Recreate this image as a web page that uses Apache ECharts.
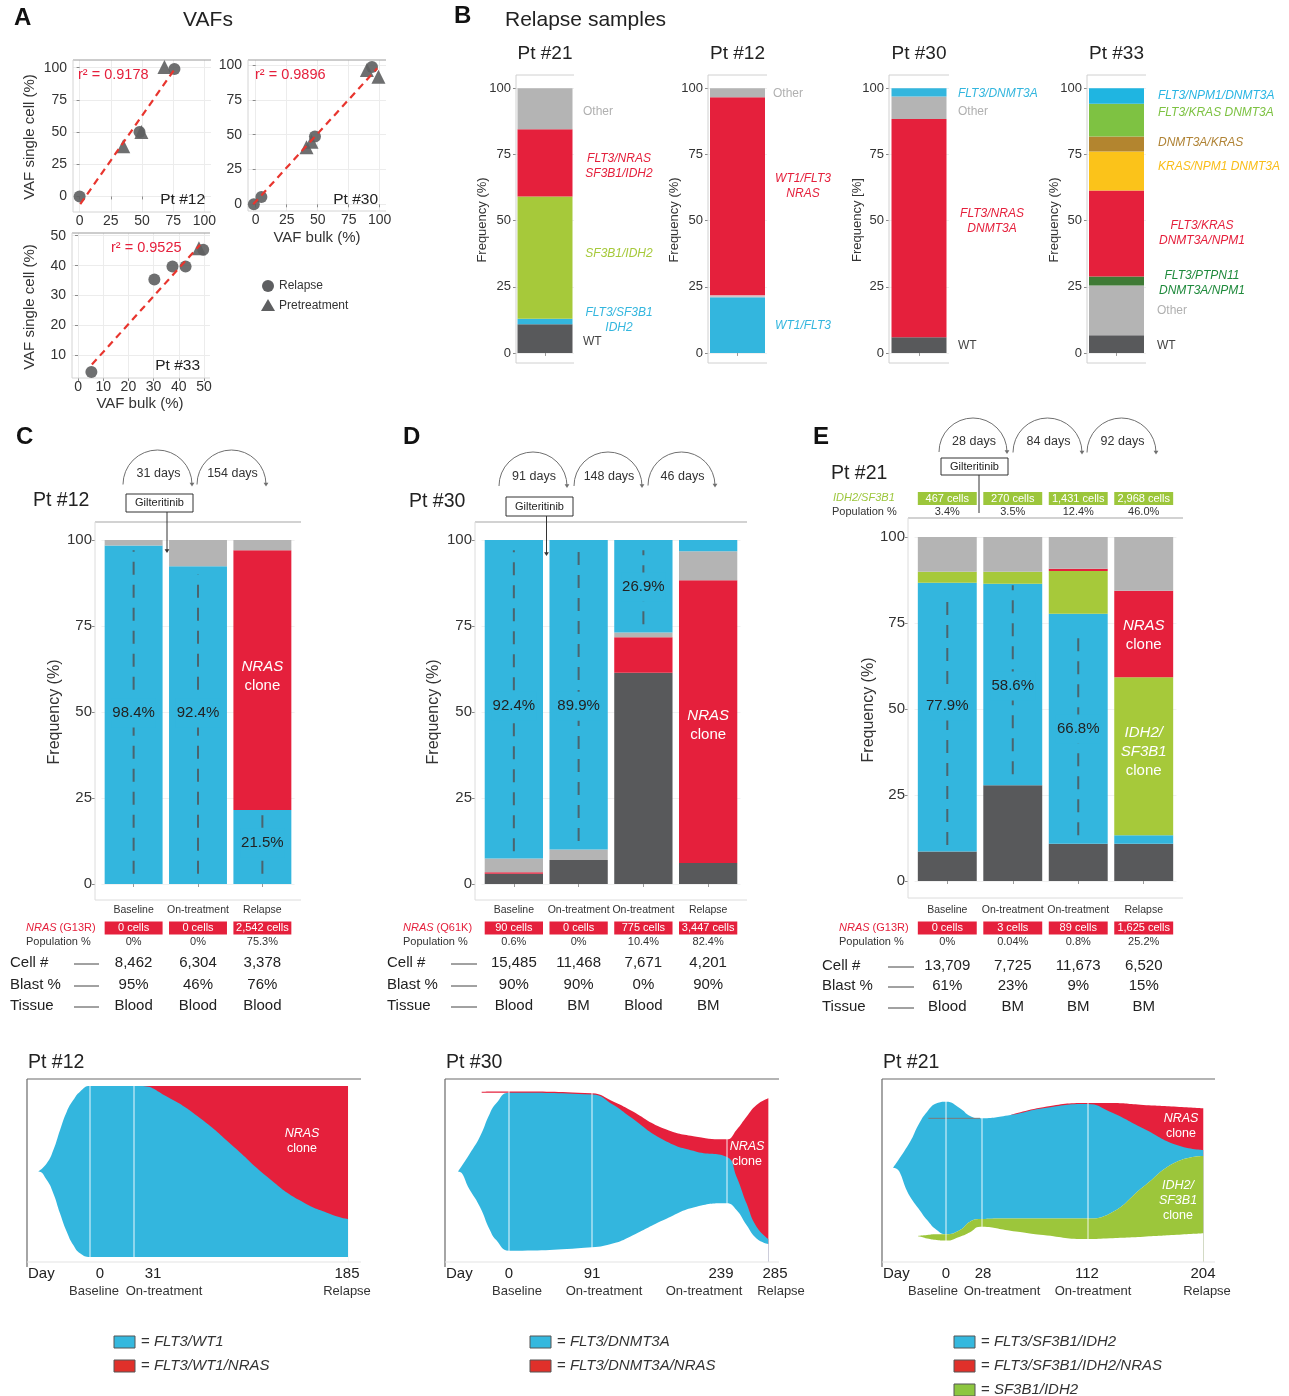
<!DOCTYPE html>
<html><head><meta charset="utf-8">
<script src="https://cdn.jsdelivr.net/npm/echarts@6/dist/echarts.min.js"></script>
<style>html,body{margin:0;padding:0;background:#fff}#c{width:1289px;height:1396px}</style>
</head><body><div id="c"></div>
<script>
const FONT = "'Liberation Sans', Arial, sans-serif";
const BLUE = '#33b6de', RED = '#e5203c', GREEN = '#a6c93a', DARK = '#58595b', GREY = '#b4b4b4';

// ---------------- Panel A data ----------------
const aTicks = [0, 25, 50, 75, 100];
const a33TicksX = [0, 10, 20, 30, 40, 50];
const a33TicksY = [10, 20, 30, 40, 50];
const a12Relapse = [[0, 0], [48, 50], [76, 99]];
const a12Pretreat = [[35, 39], [49.5, 50], [68, 100.5]];
const a12Fit = [[0.5, -6], [75.5, 98]];
const a30Relapse = [[-1.5, 0], [4.6, 5.3], [47.8, 48.7], [93.8, 98.6]];
const a30Pretreat = [[41, 41], [45, 45], [89.7, 96.4], [99, 91.6]];
const a30Fit = [[-2, 0], [98, 97.6]];
const a33Relapse = [[5.3, 4.5], [30.3, 35.4], [37.5, 39.7], [42.7, 39.7], [49.7, 45.3]];
const a33Pretreat = [[48, 45.8]];
const a33Fit = [[5.5, 7], [48.5, 47]];

// ---------------- Panel B data ----------------
const bTicks = [0, 25, 50, 75, 100];
const b21Vals = [10.8, 2.1, 46.2, 25.4, 15.5];
const b21Cols = [DARK, BLUE, GREEN, RED, GREY];
const b12Vals = [21, 0.8, 74.8, 3.4];
const b12Cols = [BLUE, '#d8c3c8', RED, GREY];
const b30Vals = [5.9, 82.5, 8.5, 3.1];
const b30Cols = [DARK, RED, GREY, BLUE];
const b33Vals = [6.7, 18.8, 3.4, 32.5, 14.7, 5.7, 12.3, 5.9];
const b33Cols = [DARK, GREY, '#3f7a35', RED, '#fbc31a', '#b3852f', '#7ec242', '#1fb5e1'];

// ---------------- Panel C data (Pt #12) ----------------
const cCats = ['Baseline', 'On-treatment', 'Relapse'];
const cBlue = [98.4, 92.4, 21.5];
const cRed = [0, 0, 75.5];
const cGrey = [1.6, 7.6, 3.0];
const cDash = [[3, 97], [3, 90], [3, 20]];
const cPctText = ['98.4%', '92.4%', '21.5%'];
const cPctAt = [49.7, 49.7, 11.9];
const cNrasCells = ['0 cells', '0 cells', '2,542 cells'];
const cNrasPop = ['0%', '0%', '75.3%'];
const cCellN = ['8,462', '6,304', '3,378'];
const cBlast = ['95%', '46%', '76%'];
const cTissue = ['Blood', 'Blood', 'Blood'];

// ---------------- Panel D data (Pt #30) ----------------
const dCats = ['Baseline', 'On-treatment', 'On-treatment', 'Relapse'];
const dDark = [3, 7, 61.4, 6.1];
const dRed = [0.4, 0, 10.3, 82.2];
const dGrey = [4, 3, 1.4, 8.4];
const dBlue = [92.6, 90, 26.9, 3.3];
const dDash = [[9.5, 97], [12.5, 97], [75.5, 97], null];
const dPctText = ['92.4%', '89.9%', '26.9%'];
const dPctAt = [51.7, 51.7, 86.3];
const dNrasCells = ['90 cells', '0 cells', '775 cells', '3,447 cells'];
const dNrasPop = ['0.6%', '0%', '10.4%', '82.4%'];
const dCellN = ['15,485', '11,468', '7,671', '4,201'];
const dBlast = ['90%', '90%', '0%', '90%'];
const dTissue = ['Blood', 'BM', 'Blood', 'BM'];

// ---------------- Panel E data (Pt #21) ----------------
const eCats = ['Baseline', 'On-treatment', 'On-treatment', 'Relapse'];
const eDark = [8.6, 27.8, 10.8, 10.8];
const eBlue = [78.1, 58.6, 66.9, 2.5];
const eGreen = [3.2, 3.5, 12.4, 45.9];
const eRed = [0, 0, 0.7, 25.2];
const eGrey = [10.1, 10.1, 9.2, 15.6];
const eDash = [[10.5, 81.9], [31, 86], [13.3, 72.7], null];
const ePctText = ['77.9%', '58.6%', '66.8%'];
const ePctAt = [50.9, 56.7, 44.2];
const eIdhCells = ['467 cells', '270 cells', '1,431 cells', '2,968 cells'];
const eIdhPop = ['3.4%', '3.5%', '12.4%', '46.0%'];
const eNrasCells = ['0 cells', '3 cells', '89 cells', '1,625 cells'];
const eNrasPop = ['0%', '0.04%', '0.8%', '25.2%'];
const eCellN = ['13,709', '7,725', '11,673', '6,520'];
const eBlast = ['61%', '23%', '9%', '15%'];
const eTissue = ['Blood', 'BM', 'BM', 'BM'];

// ---------------- Fish plot data (day, % of panel height) ----------------
const fish12Days = [-37, -31, -26.3, -21.5, -16.7, -12, -7.2, 0, 31, 36, 55, 79, 103, 127, 150, 174, 185];
const fish12Lower = [50, 45, 37.2, 25.5, 14.8, 7, 2.2, 0, 0, 0, 0, 0, 0, 0, 0, 0, 0];
const fish12BlueTop = [50, 54.8, 62.6, 74.3, 85, 91.8, 96.7, 100, 100, 100, 93.8, 81.1, 64.5, 47, 33.3, 24.6, 22.2];
const fish12RedDays = [31, 36, 55, 79, 103, 127, 150, 174, 185];
const fish12RedTop = [100, 100, 100, 100, 100, 100, 100, 100, 100];
const fish12Marks = [0, 31];

const fish30Days = [-56, -43, -32, -21, -14, 0, 91, 115, 133, 170, 206, 239, 250, 261, 272, 285];
const fish30Lower = [50, 39.2, 29.4, 15.8, 9.9, 3.7, 5.7, 8, 11.9, 21.6, 29.4, 31.4, 27.5, 18.7, 10.9, 7.6];
const fish30BlueTop = [50, 60.6, 70.4, 84, 89.9, 96.1, 95.1, 88.9, 82, 68.4, 61.6, 58.7, 47, 31.4, 17.7, 10.5];
const fish30RedDays = [-30, 0, 91, 115, 133, 170, 206, 239, 250, 261, 272, 285];
const fish30RedTop = [96.7, 96.8, 95.8, 90.8, 86, 75.2, 70.4, 68.8, 74.3, 82, 88.9, 92.8];
const fish30GapDays = [-31, 0];
const fish30GapTop = [96.1, 96.1];
const fish30Marks = [0, 91, 239];

const fish21Days = [-42, -28.5, -22, -15, -7.4, 0, 11, 19, 27, 51, 77, 112, 130, 156.5, 183, 204];
const fish21BlueLow = [52.2, 35.3, 28.5, 21.6, 15.8, 13.3, 15.8, 20.7, 22.2, 22.6, 22.6, 22.6, 25.5, 41.1, 55.7, 59.1];
const fish21BlueTop = [52.2, 67.4, 77.2, 85, 89.9, 90.8, 87, 82.5, 81.1, 83, 87, 89.5, 85, 75.2, 65.5, 62.6];
const fish21RedDays = [51, 77, 112, 130, 156.5, 183, 204];
const fish21RedTop = [83, 87.6, 90, 90, 88.9, 87.9, 87];
const fish21GreenDays = [-22, -15, -7.4, 0, 11, 19, 27, 51, 77, 112, 130, 156.5, 183, 204];
const fish21GreenTop = [12.4, 12.9, 13.3, 13.3, 15.8, 20.7, 22.2, 22.6, 22.6, 22.6, 25.5, 41.1, 55.7, 59.1];
const fish21GreenLow = [12.0, 10.8, 9.9, 9.6, 11.9, 14.5, 17.7, 15.4, 12.9, 10.5, 11, 11.9, 13, 13.9];
const fish21Guide = [[-14, 81.1], [27, 81.1]];
const fish21Marks = [0, 28, 112];

// =====================================================================
const chart = echarts.init(document.getElementById('c'), null, {renderer: 'canvas', width: 1289, height: 1396});
const option = {animation: false, backgroundColor: '#fff', textStyle: {fontFamily: FONT}, grid: [], xAxis: [], yAxis: [], series: []};

function addGrid(b, xa, ya) {
  const gi = option.grid.length;
  option.grid.push({left: b.l, top: b.t, width: b.w, height: b.h, containLabel: false, outerBoundsMode: 'none', show: false});
  option.xAxis.push(Object.assign({gridIndex: gi}, xa));
  option.yAxis.push(Object.assign({gridIndex: gi}, ya));
  return gi;
}
function S(gi, s) { s.xAxisIndex = gi; s.yAxisIndex = gi; s.silent = true; option.series.push(s); return s; }

function valAxis(min, max, ticks, size, margin, extra) {
  return Object.assign({
    type: 'value', min: min, max: max,
    axisLine: {show: false},
    axisTick: {show: true, length: 3, lineStyle: {color: '#8a8a8a'}, customValues: ticks},
    axisLabel: {show: true, customValues: ticks, fontSize: size, color: '#333', margin: margin, fontFamily: FONT},
    splitLine: {show: true, lineStyle: {color: '#ececec', width: 1}}
  }, extra || {});
}

// ---------------- A ----------------
const gA = [];
gA.push(addGrid({l: 73, t: 60, w: 138, h: 152}, valAxis(-5.3, 105.3, aTicks, 14, 2), valAxis(-12.1, 106, aTicks, 14, 6)));
gA.push(addGrid({l: 248, t: 60, w: 138, h: 151}, valAxis(-6.2, 105.1, aTicks, 14, 2), valAxis(-4.8, 103.6, aTicks, 14, 6)));
gA.push(addGrid({l: 72, t: 233, w: 138, h: 145}, valAxis(-2.4, 52.4, a33TicksX, 14, 2), valAxis(2.5, 50.9, a33TicksY, 14, 6)));
function aSeries(gi, rel, pre, fit) {
  S(gi, {type: 'scatter', data: rel, symbol: 'circle', symbolSize: 12, itemStyle: {color: '#5e5f61', opacity: 0.9}});
  S(gi, {type: 'scatter', data: pre, symbol: 'triangle', symbolSize: 14, itemStyle: {color: '#5e5f61', opacity: 0.9}});
  S(gi, {type: 'line', data: fit, symbol: 'none', lineStyle: {color: '#e8352e', width: 2.2, type: [7, 5]}});
}
aSeries(gA[0], a12Relapse, a12Pretreat, a12Fit);
aSeries(gA[1], a30Relapse, a30Pretreat, a30Fit);
aSeries(gA[2], a33Relapse, a33Pretreat, a33Fit);

// ---------------- B ----------------
function bPanel(l, w, vals, cols, key) {
  const gi = addGrid({l: l, t: 75, w: w, h: 288},
    {type: 'category', data: [key], axisLine: {show: false}, axisLabel: {show: false},
     axisTick: {show: true, alignWithLabel: true, length: 3, lineStyle: {color: '#999'}}},
    valAxis(-3.8, 105, bTicks, 13, 5, {splitLine: {show: true, lineStyle: {color: '#f0f0f0'}}}));
  vals.forEach(function (v, k) {
    S(gi, {type: 'bar', stack: key, data: [v], barWidth: 55, itemStyle: {color: cols[k]}});
  });
  return gi;
}
const gB21 = bPanel(516, 58, b21Vals, b21Cols, 'b21');
const gB12 = bPanel(708, 59, b12Vals, b12Cols, 'b12');
const gB30 = bPanel(889, 60, b30Vals, b30Cols, 'b30');
const gB33 = bPanel(1087, 59, b33Vals, b33Cols, 'b33');

// ---------------- C / D / E ----------------
function cdePanel(pL, pR, top, bottom, ymin, ymax, cats, layers, dashes, key, lblMargin) {
  const n = cats.length, unit = (pR - pL) / (n + 0.2);
  const gi = addGrid({l: pL + 0.1 * unit, t: top, w: n * unit, h: bottom - top},
    {type: 'category', data: cats.map(function (c, i) { return key + i; }), axisLine: {show: false},
     axisTick: {show: true, alignWithLabel: true, length: 3, lineStyle: {color: '#999'}},
     axisLabel: {interval: 0, formatter: function (v, i) { return cats[i]; }, fontSize: 10.5, color: '#333', margin: lblMargin, fontFamily: FONT}},
    valAxis(ymin, ymax, [0, 25, 50, 75, 100], 15, 3, {offset: 0.1 * unit, splitLine: {show: true, lineStyle: {color: '#f1f1f1'}}}));
  layers.forEach(function (L) {
    S(gi, {type: 'bar', stack: key, data: L[0], barWidth: 0.9 * unit, itemStyle: {color: L[1]}});
  });
  dashes.forEach(function (d, i) {
    if (!d) return;
    S(gi, {type: 'line', data: [[i, d[0]], [i, d[1]]], symbol: 'none', z: 3,
      lineStyle: {color: '#505052', width: 2, type: [13, 10], opacity: 0.8}});
  });
  return {gi: gi, unit: unit};
}
const pC = cdePanel(95, 301, 522, 900, -4.65, 105.23, cCats,
  [[cBlue, BLUE], [cRed, RED], [cGrey, GREY]], cDash, 'c', 4.5);
const pD = cdePanel(475, 747, 522, 900, -4.65, 105.23, dCats,
  [[dDark, DARK], [dRed, RED], [dGrey, GREY], [dBlue, BLUE]], dDash, 'd', 4.5);
const pE = cdePanel(908, 1183, 518, 898, -4.94, 105.52, eCats,
  [[eDark, DARK], [eBlue, BLUE], [eGreen, GREEN], [eRed, RED], [eGrey, GREY]], eDash, 'e', 6.5);

// ---------------- Fish plots ----------------
function fishGrid(l, w, xmin, xmax) {
  return addGrid({l: l, t: 1079, w: w, h: 183},
    {type: 'value', min: xmin, max: xmax, show: false},
    {type: 'value', min: -2.9, max: 104.1, show: false});
}
// painter layers: each edge filled down to the panel bottom; white layers mask what lies below
function fishLayer(gi, days, vals, color, extra) {
  const pts = days.map(function (d, i) { return [d, vals[i]]; });
  if (color === '#fff') pts.unshift([days[0] - 2.5, vals[0]]); // mask reaches a bit further left to hide edge seams
  return S(gi, Object.assign({type: 'line', data: pts,
    smooth: 0.5, symbol: 'none', lineStyle: {width: 0}, areaStyle: {color: color, opacity: 1, origin: 'start'}}, extra || {}));
}
function marks(days) {
  return {markLine: {silent: true, symbol: 'none', label: {show: false},
    lineStyle: {color: 'rgba(255,255,255,0.6)', width: 1.5, type: 'solid'},
    data: days.map(function (d) { return {xAxis: d}; })}};
}
const gF12 = fishGrid(27, 334, -45.2, 194.3);
fishLayer(gF12, fish12RedDays, fish12RedTop, RED);
fishLayer(gF12, fish12Days, fish12BlueTop, BLUE);
fishLayer(gF12, fish12Days, fish12Lower, '#fff', marks(fish12Marks));

const gF30 = fishGrid(445, 334, -70.3, 296.7);
fishLayer(gF30, fish30RedDays, fish30RedTop, RED);
fishLayer(gF30, fish30GapDays, fish30GapTop, '#fff', {smooth: false});
fishLayer(gF30, fish30Days, fish30BlueTop, BLUE);
fishLayer(gF30, fish30Days, fish30Lower, '#fff', marks(fish30Marks));

const gF21 = fishGrid(882, 333, -50.8, 213.3);
fishLayer(gF21, fish21RedDays, fish21RedTop, RED);
fishLayer(gF21, fish21Days, fish21BlueTop, BLUE);
fishLayer(gF21, fish21Days, fish21BlueLow, '#fff');
fishLayer(gF21, fish21GreenDays, fish21GreenTop, '#9cc63b');
fishLayer(gF21, fish21GreenDays, fish21GreenLow, '#fff', marks(fish21Marks));
S(gF21, {type: 'line', data: fish21Guide, symbol: 'none', lineStyle: {color: '#7a7a7a', width: 1}});

chart.setOption(option);

// =================== annotations ===================
const G = [];
function px(gi, x, y) { return chart.convertToPixel({gridIndex: gi}, [x, y]); }
function txt(text, x, y, o) {
  o = o || {};
  const st = {text: text, fill: o.color || '#222', fontSize: o.size || 14, fontFamily: FONT,
    fontStyle: o.italic ? 'italic' : 'normal', fontWeight: o.bold ? 'bold' : 'normal',
    align: o.align || 'center', verticalAlign: o.va || 'middle',
    textAlign: o.align || 'center', textVerticalAlign: o.va || 'middle'};
  if (o.rich) st.rich = o.rich;
  if (o.bg) { st.backgroundColor = o.bg; st.padding = o.pad || 0; }
  if (o.lh) st.lineHeight = o.lh;
  const el = {type: 'text', x: x, y: y, z: 100, silent: true, style: st};
  if (o.rot) el.rotation = o.rot;
  G.push(el);
}
function it(size, color) { return {fontStyle: 'italic', fontSize: size, fontFamily: FONT, fill: color, color: color}; }
function ln(x1, y1, x2, y2, c, w, z) { G.push({type: 'line', z: z || 100, silent: true, shape: {x1: x1, y1: y1, x2: x2, y2: y2}, style: {stroke: c, lineWidth: w || 1}}); }
function rect(x, y, w, h, fill, stroke, z) { G.push({type: 'rect', z: z || 100, silent: true, shape: {x: x, y: y, width: w, height: h}, style: {fill: fill, stroke: stroke || null, lineWidth: 1}}); }
function tri(x, y, s, fill) { G.push({type: 'polygon', z: 100, silent: true, shape: {points: [[x - s, y - s * 1.6], [x + s, y - s * 1.6], [x, y]]}, style: {fill: fill}}); }
function arcArrow(x1, x2, top) {
  const cx = (x1 + x2) / 2, r = (x2 - x1) / 2, cy = top + r;
  G.push({type: 'arc', z: 100, silent: true, shape: {cx: cx, cy: cy, r: r, startAngle: Math.PI, endAngle: 2 * Math.PI, clockwise: true}, style: {stroke: '#707070', fill: null, lineWidth: 1}});
  tri(x2, cy + 2, 2.4, '#707070');
}
function frame(l, t, r, b, topC, sideC) {
  ln(l, t, r, t, topC, 1, 1);
  ln(l, t, l, b, sideC, 1, 1);
  ln(l, b, r, b, sideC, 1, 1);
}

// ----- A -----
txt('A', 14, 18, {size: 24, bold: true, align: 'left', color: '#111'});
txt('VAFs', 208, 20, {size: 21, color: '#222'});
frame(73, 60, 211, 212, '#9a9a9a', '#d4d4d4');
frame(248, 60, 386, 211, '#9a9a9a', '#d4d4d4');
frame(72, 233, 210, 378, '#9a9a9a', '#d4d4d4');
txt('r² = 0.9178', 78, 75, {size: 14.5, color: RED, align: 'left'});
txt('r² = 0.9896', 255, 75, {size: 14.5, color: RED, align: 'left'});
txt('r² = 0.9525', 111, 248, {size: 14.5, color: RED, align: 'left'});
txt('Pt #12', 205, 200, {size: 15.5, align: 'right'});
txt('Pt #30', 378, 200, {size: 15.5, align: 'right'});
txt('Pt #33', 200, 366, {size: 15.5, align: 'right'});
txt('VAF single cell (%)', 30, 137, {size: 15, rot: Math.PI / 2, color: '#333'});
txt('VAF single cell (%)', 30, 307, {size: 15, rot: Math.PI / 2, color: '#333'});
txt('VAF bulk (%)', 317, 238, {size: 15, color: '#333'});
txt('VAF bulk (%)', 140, 404, {size: 15, color: '#333'});
G.push({type: 'circle', z: 100, silent: true, shape: {cx: 268, cy: 286, r: 6}, style: {fill: '#5e5f61'}});
G.push({type: 'polygon', z: 100, silent: true, shape: {points: [[268, 299], [275, 311], [261, 311]]}, style: {fill: '#5e5f61'}});
txt('Relapse', 279, 286, {size: 12, align: 'left', color: '#333'});
txt('Pretreatment', 279, 306, {size: 12, align: 'left', color: '#333'});

// ----- B -----
txt('B', 454, 16, {size: 24, bold: true, align: 'left', color: '#111'});
txt('Relapse samples', 505, 20, {size: 21, align: 'left', color: '#222'});
[[gB21, 516, 58, 'Pt #21', 482, 'Frequency (%)'], [gB12, 708, 59, 'Pt #12', 674, 'Frequency (%)'],
 [gB30, 889, 60, 'Pt #30', 857, 'Frequency [%]'], [gB33, 1087, 59, 'Pt #33', 1054, 'Frequency (%)']].forEach(function (p) {
  frame(p[1], 75, p[1] + p[2], 363, '#d0d0d0', '#d0d0d0');
  txt(p[3], p[1] + p[2] / 2, 54, {size: 19});
  txt(p[5], p[4], 220, {size: 13, rot: Math.PI / 2, color: '#333'});
});
txt('Other', 583, 112, {size: 12, align: 'left', color: '#b0b0b0'});
txt('FLT3/NRAS\nSF3B1/IDH2', 619, 166, {size: 12, italic: true, color: RED, lh: 15});
txt('SF3B1/IDH2', 619, 254, {size: 12, italic: true, color: GREEN});
txt('FLT3/SF3B1\nIDH2', 619, 320, {size: 12, italic: true, color: BLUE, lh: 15});
txt('WT', 583, 342, {size: 12, align: 'left', color: '#444'});
txt('Other', 773, 94, {size: 12, align: 'left', color: '#b0b0b0'});
txt('WT1/FLT3\nNRAS', 803, 186, {size: 12, italic: true, color: RED, lh: 15});
txt('WT1/FLT3', 803, 326, {size: 12, italic: true, color: BLUE});
txt('FLT3/DNMT3A', 958, 94, {size: 12, italic: true, align: 'left', color: BLUE});
txt('Other', 958, 112, {size: 12, align: 'left', color: '#b0b0b0'});
txt('FLT3/NRAS\nDNMT3A', 992, 221, {size: 12, italic: true, color: RED, lh: 15});
txt('WT', 958, 346, {size: 12, align: 'left', color: '#444'});
txt('FLT3/NPM1/DNMT3A', 1158, 96, {size: 12, italic: true, align: 'left', color: '#29b5e3'});
txt('FLT3/KRAS DNMT3A', 1158, 113, {size: 12, italic: true, align: 'left', color: '#7dc242'});
txt('DNMT3A/KRAS', 1158, 143, {size: 12, italic: true, align: 'left', color: '#b08335'});
txt('KRAS/NPM1 DNMT3A', 1158, 167, {size: 12, italic: true, align: 'left', color: '#f9bd18'});
txt('FLT3/KRAS\nDNMT3A/NPM1', 1202, 233, {size: 12, italic: true, color: RED, lh: 15});
txt('FLT3/PTPN11\nDNMT3A/NPM1', 1202, 283, {size: 12, italic: true, color: '#1f8a3c', lh: 15});
txt('Other', 1157, 311, {size: 12, align: 'left', color: '#b0b0b0'});
txt('WT', 1157, 346, {size: 12, align: 'left', color: '#444'});

// ----- C / D / E common -----
function cde(p, cfg) {
  const gi = p.gi, n = cfg.n, bw = 0.9 * p.unit;
  frame(cfg.pL, cfg.top, cfg.pR, cfg.bottom, '#a5a5a5', '#dcdcdc');
  txt(cfg.letter, cfg.letterX, 437, {size: 24, bold: true, align: 'left', color: '#111'});
  txt(cfg.title, cfg.titleX, cfg.titleY, {size: 19.5, align: 'left'});
  txt('Frequency (%)', cfg.ylabX, cfg.ylabY, {size: 16, rot: Math.PI / 2, color: '#333'});
  cfg.arcs.forEach(function (a, k) {
    arcArrow(a[0], a[1], cfg.arcTop);
    txt(cfg.arcText[k], (a[0] + a[1]) / 2 + 1, cfg.arcTextY, {size: 12.5, color: '#333'});
  });
  const gb = cfg.gilt;
  rect(gb[0], gb[1], gb[2], gb[3], '#fff', '#333');
  txt('Gilteritinib', gb[0] + gb[2] / 2, gb[1] + gb[3] / 2, {size: 11, color: '#222'});
  ln(gb[4], gb[1] + gb[3], gb[4], gb[5], '#333', 1);
  if (cfg.arrow) tri(gb[4], gb[5] + 2, 2.4, '#333');
  cfg.pctText.forEach(function (t, i) {
    const q = px(gi, i, cfg.pctAt[i]);
    txt(t, q[0], q[1], {size: 15, color: '#222', bg: BLUE, pad: [7, 1]});
  });
  cfg.clones.forEach(function (c) {
    const q = px(gi, c[0], c[1]);
    txt(c[2], q[0], q[1], {size: 15, color: '#fff', lh: 19, rich: {i: Object.assign(it(15, '#fff'), {lineHeight: 19})}});
  });
  txt('{i|NRAS} (' + cfg.mut + ')', cfg.nrasX, 928, {size: 11, color: RED, align: 'left', rich: {i: it(11, RED)}});
  txt('Population %', cfg.nrasX, 942, {size: 11, color: '#333', align: 'left'});
  ['Cell #', 'Blast %', 'Tissue'].forEach(function (s, k) {
    txt(s, cfg.rowX, cfg.rowY[k], {size: 15, align: 'left', color: '#222'});
    ln(cfg.lineX[0], cfg.rowY[k] + 1, cfg.lineX[1], cfg.rowY[k] + 1, '#444', 1);
  });
  for (let i = 0; i < n; i++) {
    const cx = px(gi, i, 0)[0];
    rect(cx - bw / 2, 921.5, bw, 13, RED);
    txt(cfg.cells[i], cx, 928, {size: 11, color: '#fff'});
    txt(cfg.pop[i], cx, 942, {size: 11, color: '#333'});
    cfg.rows.forEach(function (r, k) { txt(r[i], cx, cfg.rowY[k], {size: 15, color: '#222'}); });
  }
}
cde(pC, {n: 3, pL: 95, pR: 301, top: 522, bottom: 900, letter: 'C', letterX: 16, title: 'Pt #12', titleX: 33, titleY: 501,
  ylabX: 55, ylabY: 712, arcs: [[123, 192], [197, 266]], arcTop: 450, arcText: ['31 days', '154 days'], arcTextY: 474,
  gilt: [126, 494, 67, 18, 167, 551], arrow: true, pctText: cPctText, pctAt: cPctAt,
  clones: [[2, 60.5, '{i|NRAS}\nclone']], mut: 'G13R', nrasX: 26, rowX: 10, rowY: [963, 985, 1006], lineX: [74, 99],
  cells: cNrasCells, pop: cNrasPop, rows: [cCellN, cBlast, cTissue]});
cde(pD, {n: 4, pL: 475, pR: 747, top: 522, bottom: 900, letter: 'D', letterX: 403, title: 'Pt #30', titleX: 409, titleY: 502,
  ylabX: 434, ylabY: 712, arcs: [[499, 567], [574, 642], [648, 715]], arcTop: 452, arcText: ['91 days', '148 days', '46 days'], arcTextY: 477,
  gilt: [506, 497, 67, 19, 546.5, 554], arrow: true, pctText: dPctText, pctAt: dPctAt,
  clones: [[3, 46.2, '{i|NRAS}\nclone']], mut: 'Q61K', nrasX: 403, rowX: 387, rowY: [963, 985, 1006], lineX: [451, 477],
  cells: dNrasCells, pop: dNrasPop, rows: [dCellN, dBlast, dTissue]});
cde(pE, {n: 4, pL: 908, pR: 1183, top: 518, bottom: 898, letter: 'E', letterX: 813, title: 'Pt #21', titleX: 831, titleY: 474,
  ylabX: 869, ylabY: 710, arcs: [[939, 1007], [1013, 1082], [1087, 1156]], arcTop: 418, arcText: ['28 days', '84 days', '92 days'], arcTextY: 442,
  gilt: [941, 458, 67, 17, 979, 513], arrow: false, pctText: ePctText, pctAt: ePctAt,
  clones: [[3, 71.5, '{i|NRAS}\nclone'], [3, 37.5, '{i|IDH2/}\n{i|SF3B1}\nclone']], mut: 'G13R', nrasX: 839, rowX: 822, rowY: [966, 986, 1007], lineX: [888, 914],
  cells: eNrasCells, pop: eNrasPop, rows: [eCellN, eBlast, eTissue]});
txt('IDH2/SF3B1', 833, 498, {size: 11, italic: true, color: '#9cc63b', align: 'left'});
txt('Population %', 832, 512, {size: 11, color: '#333', align: 'left'});
for (let i = 0; i < 4; i++) {
  const cx = px(pE.gi, i, 0)[0], bw = 0.9 * pE.unit;
  rect(cx - bw / 2, 492, bw, 13, '#9cc63b');
  txt(eIdhCells[i], cx, 498.5, {size: 11, color: '#fff'});
  txt(eIdhPop[i], cx, 512, {size: 11, color: '#333'});
}

// ----- Fish plots text -----
function fishText(gi, l, r, title, dayLbls, catLbls, legend, legX, clones) {
  ln(l, 1079, r, 1079, '#6a6a6a', 1.2);
  ln(l, 1079, l, 1267, '#6a6a6a', 1.2);
  ln(l, 1262, r, 1262, '#e3e3e3', 1);
  txt(title, l + 1, 1063, {size: 19.5, align: 'left'});
  txt('Day', l + 1, 1274, {size: 15, align: 'left'});
  dayLbls.forEach(function (d) { txt(d[0], d[1], 1274, {size: 15}); });
  catLbls.forEach(function (d) { txt(d[0], d[1], 1291, {size: 13, color: '#333'}); });
  legend.forEach(function (g, k) {
    const y = 1342 + k * 24;
    rect(legX, y - 6, 21, 12, g[1], '#555');
    txt('= {i|' + g[0] + '}', legX + 27, y, {size: 15, align: 'left', color: '#333', rich: {i: it(15, '#333')}});
  });
  clones.forEach(function (c) {
    txt(c[0], c[1], c[2], {size: 12.5, color: '#fff', lh: 15, rich: {i: Object.assign(it(12.5, '#fff'), {lineHeight: 15})}});
  });
}
fishText(gF12, 27, 361, 'Pt #12', [['0', 100], ['31', 153], ['185', 347]],
  [['Baseline', 94], ['On-treatment', 164], ['Relapse', 347]],
  [['FLT3/WT1', '#35b8de'], ['FLT3/WT1/NRAS', '#e0302a']], 114, [['{i|NRAS}\nclone', 302, 1141]]);
fishText(gF30, 445, 779, 'Pt #30', [['0', 509], ['91', 592], ['239', 721], ['285', 775]],
  [['Baseline', 517], ['On-treatment', 604], ['On-treatment', 704], ['Relapse', 781]],
  [['FLT3/DNMT3A', '#35b8de'], ['FLT3/DNMT3A/NRAS', '#e0302a']], 530, [['{i|NRAS}\nclone', 747, 1154]]);
fishText(gF21, 882, 1215, 'Pt #21', [['0', 946], ['28', 983], ['112', 1087], ['204', 1203]],
  [['Baseline', 933], ['On-treatment', 1002], ['On-treatment', 1093], ['Relapse', 1207]],
  [['FLT3/SF3B1/IDH2', '#35b8de'], ['FLT3/SF3B1/IDH2/NRAS', '#e0302a'], ['SF3B1/IDH2', '#8dc63f']], 954,
  [['{i|NRAS}\nclone', 1181, 1126], ['{i|IDH2/}\n{i|SF3B1}\nclone', 1178, 1201]]);

chart.setOption({graphic: G});
</script></body></html>
